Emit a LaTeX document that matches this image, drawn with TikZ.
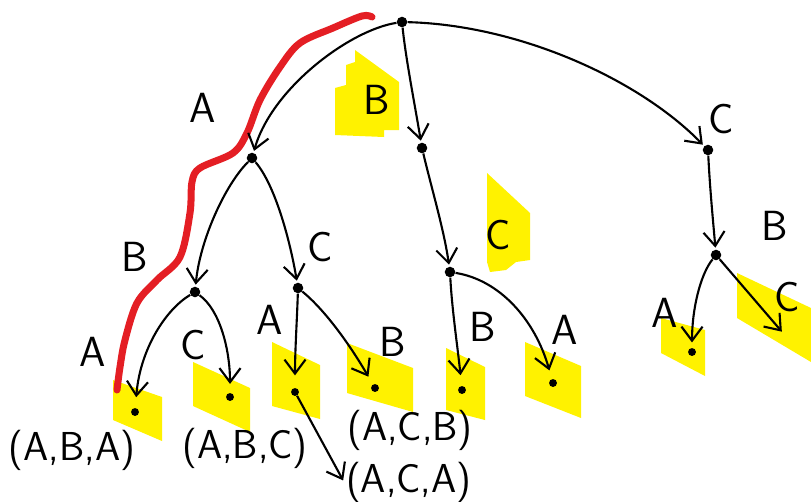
\documentclass[tikz,border=0pt]{standalone}
\usepackage{xcolor}
\usetikzlibrary{arrows.meta}
\definecolor{penred}{RGB}{228,30,36}
\definecolor{marker}{RGB}{255,242,0}
\tikzset{
  dot/.style={circle, fill=black, inner sep=0pt, minimum size=6pt},
  leaf/.style={circle, fill=black, inner sep=0pt, minimum size=4.5pt},
  edge/.style={-{Straight Barb[length=8pt, width=12pt]}, line width=1.2pt, shorten >=1pt},
  lbl/.style={font=\sffamily\fontsize{24}{28}\selectfont, inner sep=0pt},
  tuple/.style={font=\sffamily\fontsize{23}{28}\selectfont, inner sep=1pt},
}

\begin{document}
\begin{tikzpicture}[x=0.02cm, y=-0.02cm]
\useasboundingbox (0,0) rectangle (811,501);

% highlighter marks
\fill[marker] (355,50) -- (399,82) -- (399,130) -- (384,130) -- (384,137) -- (335,135) -- (335,88) -- (346,85) -- (346,65) -- (355,62) -- cycle;
\fill[marker] (487,173) -- (530,213) -- (530,260) -- (516,262) -- (506,270) -- (490,272) -- (487,262) -- cycle;
\fill[marker] (113,380) -- (162,397) -- (162,441) -- (113,420) -- cycle;
\fill[marker] (193,362) -- (250,388) -- (250,432) -- (193,406) -- cycle;
\fill[marker] (272,342) -- (320,365) -- (320,419) -- (272,406) -- cycle;
\fill[marker] (347,343) -- (413,368) -- (413,412) -- (347,393) -- cycle;
\fill[marker] (446,348) -- (485,367) -- (485,420) -- (446,410) -- cycle;
\fill[marker] (525,342) -- (581,366) -- (581,418) -- (525,396) -- cycle;
\fill[marker] (661,318) -- (705,330) -- (705,376) -- (661,353) -- cycle;
\fill[marker] (737,273) -- (811,308) -- (811,362) -- (737,318) -- cycle;

% path of the first permutation
\draw[penred, line width=4pt, line cap=round, line join=round] plot[smooth, tension=0.55] coordinates {(372,17) (362,16) (333,28) (300,43) (280,67) (260,100) (247,133) (233,153) (200,168) (192,182) (190,213) (180,257) (157,280) (137,303) (125,340) (120,367) (117,390)};

\node[dot] (R) at (402,22) {};
\node[dot] (nA) at (252,158) {};
\node[dot] (nB) at (422,148) {};
\node[dot] (nC) at (708,150) {};
\node[dot] (nAB) at (195,292) {};
\node[dot] (nAC) at (298,288) {};
\node[dot] (nBC) at (450,272) {};
\node[dot] (nCB) at (716,255) {};

\node[leaf] (lABA) at (135,412) {};
\node[leaf] (lABC) at (230,397) {};
\node[leaf] (lACA) at (295,392) {};
\node[leaf] (lACB) at (375,388) {};
\node[leaf] (lBCB) at (462,390) {};
\node[leaf] (lBCA) at (553,383) {};
\node[leaf] (lCBA) at (692,352) {};
\coordinate (lCBC) at (783,333);

\draw[edge] (R) .. controls (350,30) and (272,88) .. (nA);
\draw[edge] (R) .. controls (406,60) and (414,100) .. (nB);
\draw[edge] (R) .. controls (520,25) and (640,80) .. (nC);
\draw[edge] (nA) .. controls (225,185) and (200,240) .. (nAB);
\draw[edge] (nA) .. controls (275,185) and (290,240) .. (nAC);
\draw[edge] (nB) .. controls (432,190) and (444,230) .. (nBC);
\draw[edge] (nC) .. controls (710,190) and (713,220) .. (nCB);
\draw[edge, shorten >=6pt] (nAB) .. controls (165,310) and (140,350) .. (lABA);
\draw[edge, shorten >=5pt] (nAB) .. controls (220,310) and (230,350) .. (lABC);
\draw[edge, shorten >=7pt] (nAC) .. controls (297,320) and (295,350) .. (lACA);
\draw[edge, shorten >=5pt] (nAC) .. controls (325,310) and (350,345) .. (lACB);
\draw[edge, shorten >=6pt] (nBC) .. controls (452,310) and (458,350) .. (lBCB);
\draw[edge, shorten >=5pt] (nBC) .. controls (500,280) and (535,320) .. (lBCA);
\draw[edge, shorten >=3pt] (nCB) .. controls (700,275) and (692,310) .. (lCBA);
\draw[edge] (nCB) -- (lCBC);

% branch labels
\node[lbl] (xA) at (203,108) {A};
\node[lbl] (xB) at (377,100) {B};
\node[lbl] (xC) at (721,119) {C};
\node[lbl] (xAB) at (135,257) {B};
\node[lbl] (xAC) at (320,247) {C};
\node[lbl] (xBC) at (498,235) {C};
\node[lbl] (xCB) at (775,226) {B};
\node[lbl] (xABA) at (93,352) {A};
\node[lbl] (xABC) at (193,345) {C};
\node[lbl] (xACA) at (270,320) {A};
\node[lbl] (xACB) at (393,342) {B};
\node[lbl] (xBCB) at (483,327) {B};
\node[lbl] (xBCA) at (565,330) {A};
\node[lbl] (xCBA) at (665,313) {A};
\node[lbl] (xCBC) at (787,297) {C};

% resulting sequences
\node[tuple] (tABA) at (72,450) {(A,B,A)};
\node[tuple] (tABC) at (245,448) {(A,B,C)};
\node[tuple] (tACB) at (410,430) {(A,C,B)};
\node[tuple, anchor=west] (tACA) at (344,482) {(A,C,A)};
\draw[edge] (lACA) -- (tACA.west);
\end{tikzpicture}
\end{document}
